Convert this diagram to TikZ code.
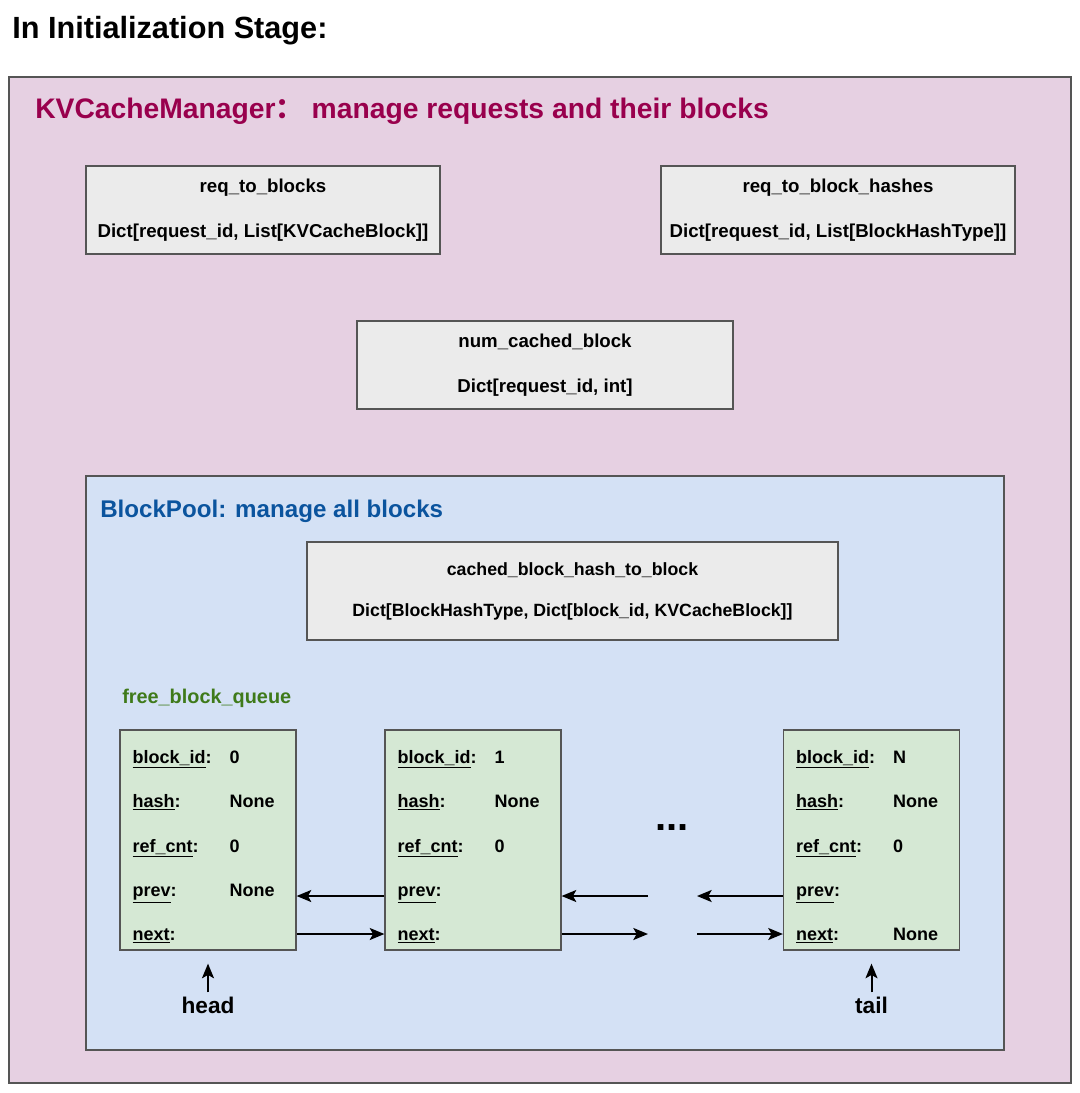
\documentclass[tikz,border=0pt]{standalone}
\usepackage{fontspec}
\setmainfont{Liberation Sans}
\newfontfamily\cjkfont{Noto Sans CJK SC}
\usetikzlibrary{arrows.meta}

\definecolor{mgrpink}{HTML}{E6D0E2}
\definecolor{poolblue}{HTML}{D4E1F5}
\definecolor{blkgreen}{HTML}{D5E8D4}
\definecolor{boxgrey}{HTML}{EBEBEB}
\definecolor{edgegrey}{HTML}{555555}
\definecolor{mgrtext}{HTML}{99004D}
\definecolor{pooltext}{HTML}{0B549E}
\definecolor{queuetext}{HTML}{3F7A1A}

\tikzset{
  container/.style={draw=edgegrey, line width=0.9pt, inner sep=0pt},
  dictbox/.style 2 args={draw=edgegrey, fill=boxgrey, line width=0.9pt,
    minimum width=#1*0.75pt, minimum height=#2*0.75pt, align=center,
    font=\fontsize{14}{17}\selectfont\bfseries},
  blockbox/.style={draw=edgegrey, fill=blkgreen, line width=0.9pt,
    minimum width=132pt, minimum height=165pt},
  fieldkey/.style={anchor=base west, inner sep=0pt, font=\fontsize{13.5}{16}\selectfont\bfseries},
  heading/.style={anchor=base west, inner sep=0pt},
  ptr/.style={-{Stealth[length=11pt,width=9pt,inset=2.5pt]}, line width=1.5pt}
}

\begin{document}
\begin{tikzpicture}[x=0.75pt, y=-0.75pt]
\useasboundingbox (0,0) rectangle (1080,1093);

\node[heading, font=\fontsize{23}{28}\selectfont\bfseries] (title) at (12,38) {In Initialization Stage:};

% KVCacheManager
\node[container, fill=mgrpink, minimum width=796.5pt, minimum height=754.5pt] (mgr) at (540,580) {};
\node[heading, text=mgrtext, font=\fontsize{21.2}{25}\selectfont\bfseries] (mgrlabel) at (35,118)
  {KVCacheManager{\cjkfont ：}\ manage requests and their blocks};

\node[dictbox={354}{88}] (r2b) at (263,210) {req\_to\_blocks\\[16.75pt]Dict[request\_id, List[KVCacheBlock]]};
\node[dictbox={354}{88}] (r2bh) at (838,210) {req\_to\_block\_hashes\\[16.75pt]Dict[request\_id, List[BlockHashType]]};
\node[dictbox={376}{88}] (ncb) at (545,365) {num\_cached\_block\\[16.75pt]Dict[request\_id, int]};

% BlockPool
\node[container, fill=poolblue, minimum width=688.5pt, minimum height=430.5pt] (pool) at (545,763) {};
\node[heading, text=pooltext, font=\fontsize{18.1}{22}\selectfont\bfseries] (poollabel) at (100,517)
  {BlockPool: manage all blocks};

\node[dictbox={531}{98}, font=\fontsize{13.3}{16}\selectfont\bfseries] (cbh) at (572.5,591)
  {cached\_block\_hash\_to\_block\\[14.75pt]Dict[BlockHashType, Dict[block\_id, KVCacheBlock]]};

\node[heading, text=queuetext, font=\fontsize{14.9}{18}\selectfont\bfseries] (queuelabel) at (122,703)
  {free\_block\_queue};

% free blocks
\foreach \blk/\bx/\id/\pv/\nx in {b0/208/0/None/{}, b1/473/1/{}/{}, bN/871.5/N/{}/None} {
  \node[blockbox] (\blk) at (\bx,840) {};
  \foreach \key/\val [count=\r] in {block\_id/\id, hash/None, ref\_cnt/0, prev/\pv, next/\nx} {
    \node[fieldkey] (\blk-k\r) at ([shift={(13,{34+44.3*(\r-1)})}]\blk.north west) {\underline{\key}:};
    \node[fieldkey] (\blk-v\r) at ([shift={(110,{34+44.3*(\r-1)})}]\blk.north west) {\val};
  }
}

\node[anchor=base, inner sep=0pt, font=\fontsize{30}{30}\selectfont\bfseries] (dots) at (672,830) {...};

\coordinate (prevrow) at (0,896);
\coordinate (nextrow) at (0,934);
\coordinate (gapL) at (648,915);
\coordinate (gapR) at (697,915);

\draw[ptr] (b1.west |- prevrow) -- (b0.east |- prevrow);
\draw[ptr] (b0.east |- nextrow) -- (b1.west |- nextrow);
\draw[ptr] (gapL |- prevrow) -- (b1.east |- prevrow);
\draw[ptr] (b1.east |- nextrow) -- (gapL |- nextrow);
\draw[ptr] (bN.west |- prevrow) -- (gapR |- prevrow);
\draw[ptr] (gapR |- nextrow) -- (bN.west |- nextrow);

% head / tail
\node[anchor=base, inner sep=0pt, font=\fontsize{17}{20}\selectfont\bfseries] (head) at (208,1013) {head};
\node[anchor=base, inner sep=0pt, font=\fontsize{17}{20}\selectfont\bfseries] (tail) at (871.5,1013) {tail};
\draw[ptr, shorten <=3pt, shorten >=9.75pt] (head.north) -- (b0.south);
\draw[ptr, shorten <=3pt, shorten >=9.75pt] (tail.north) -- (bN.south);
\end{tikzpicture}
\end{document}
